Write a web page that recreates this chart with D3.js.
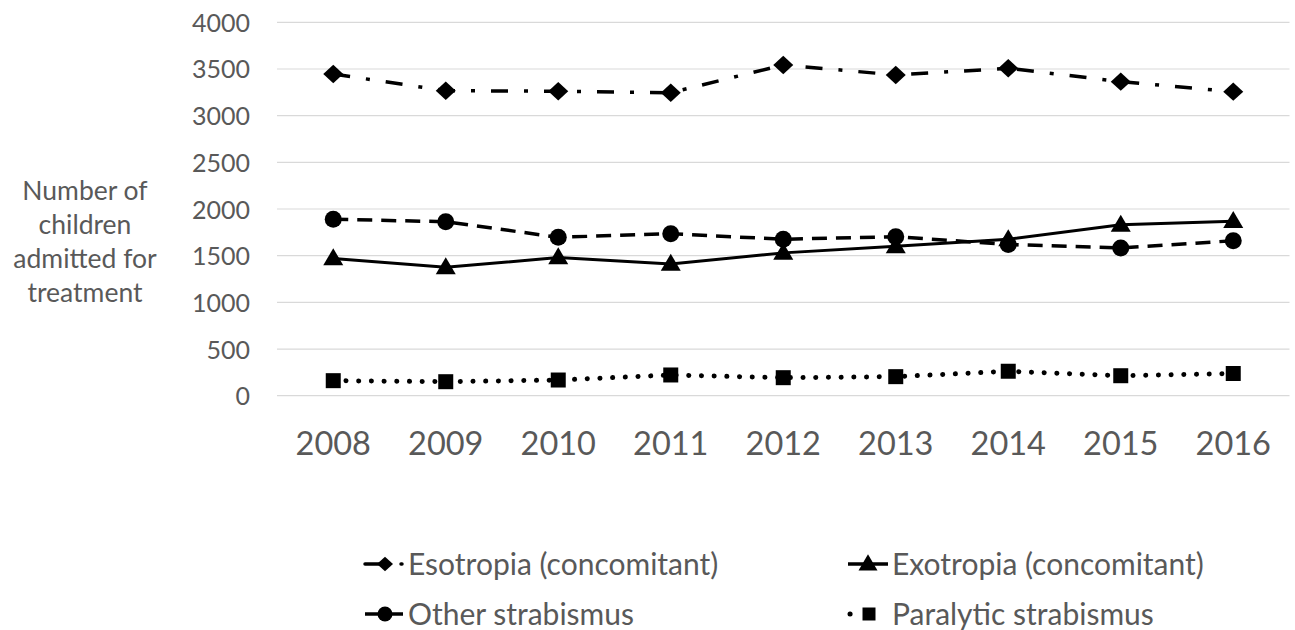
<!DOCTYPE html>
<html>
<head>
<meta charset="utf-8">
<script src="https://cdn.jsdelivr.net/npm/d3@7/dist/d3.min.js"></script>
<style>
  html, body { margin: 0; padding: 0; background: #fff; }
  svg { display: block; }
  text { font-family: Lato, "Open Sans", sans-serif; fill: #595959; }
</style>
</head>
<body>
<svg id="chart" width="1295" height="630"></svg>
<script>
const years = ["2008","2009","2010","2011","2012","2013","2014","2015","2016"];
const yTicks = [0, 500, 1000, 1500, 2000, 2500, 3000, 3500, 4000];
const esotropia = [3446, 3267, 3262, 3246, 3543, 3436, 3507, 3364, 3257];
const exotropia = [1470, 1375, 1480, 1411, 1530, 1600, 1675, 1830, 1868];
const otherStrab = [1890, 1864, 1697, 1735, 1676, 1703, 1620, 1583, 1660];
const paralytic = [161, 150, 168, 222, 193, 204, 262, 214, 238];
const seriesNames = ["Esotropia (concomitant)", "Exotropia (concomitant)", "Other strabismus", "Paralytic strabismus"];
const yTitle = ["Number of", "children", "admitted for", "treatment"];

const svg = d3.select("#chart");
const x = d3.scaleBand().domain(years).range([277, 1289.5]).padding(0);
const xc = d => x(d) + x.bandwidth() / 2;
const y = d3.scaleLinear().domain([0, 4000]).range([395.7, 22.3]);

// gridlines
svg.append("g").selectAll("line").data(yTicks).join("line")
  .attr("x1", 277).attr("x2", 1289.5)
  .attr("y1", d => y(d)).attr("y2", d => y(d))
  .attr("stroke", "#d9d9d9").attr("stroke-width", 1.2);

// y axis labels
const yAxis = d3.axisLeft(y).tickValues(yTicks).tickSize(0).tickPadding(0).tickFormat(d3.format("d"));
const gy = svg.append("g").attr("transform", "translate(250,0)").call(yAxis);
gy.select(".domain").remove();
gy.selectAll("text").style("font-size", "25px").attr("fill", "#595959")
  .style("font-family", "Lato, 'Open Sans', sans-serif").attr("dy", "0.36em");

// x axis labels
const xAxis = d3.axisBottom(x).tickSize(0).tickPadding(0);
const gx = svg.append("g").attr("transform", "translate(0,431)").call(xAxis);
gx.select(".domain").remove();
gx.selectAll("text").style("font-size", "32.5px").attr("fill", "#595959")
  .style("font-family", "Lato, 'Open Sans', sans-serif").attr("dy", "0.74em");

// y title
svg.append("g").selectAll("text").data(yTitle).join("text")
  .attr("x", 85).attr("y", (d, i) => 200 + i * 34)
  .attr("text-anchor", "middle").style("font-size", "26.5px").text(d => d);

const line = d3.line().x((d, i) => xc(years[i])).y(d => y(d));

const series = [
  { name: seriesNames[0], vals: esotropia, dash: "17,16,4,16", width: 3.5, cap: "butt", marker: "diamond" },
  { name: seriesNames[1], vals: exotropia, dash: null, width: 3, cap: "butt", marker: "triangle" },
  { name: seriesNames[2], vals: otherStrab, dash: "15,9", width: 3.5, cap: "butt", marker: "circle" },
  { name: seriesNames[3], vals: paralytic, dash: "0.1,12.6", width: 5, cap: "round", marker: "square" }
];

const markerShape = (s, size) => {
  if (s.marker === "diamond") {
    const w = size, h = size * 0.92;
    return `M0,${-h/2}L${w/2},0L0,${h/2}L${-w/2},0Z`;
  }
  if (s.marker === "triangle") {
    const w = size, h = size * 0.85;
    return `M0,${-h*0.6}L${w/2},${h*0.4}L${-w/2},${h*0.4}Z`;
  }
  if (s.marker === "circle") {
    const r = size / 2;
    return `M${r},0A${r},${r} 0 1,1 ${-r},0A${r},${r} 0 1,1 ${r},0Z`;
  }
  const h = size / 2;
  return `M${-h},${-h}H${h}V${h}H${-h}Z`;
};
const msz = [20, 20, 17, 15];

series.forEach((s, si) => {
  svg.append("path").datum(s.vals)
    .attr("d", line).attr("fill", "none").attr("stroke", "#000")
    .attr("stroke-width", s.width).attr("stroke-linecap", s.cap)
    .attr("stroke-dasharray", s.dash);
  svg.append("g").selectAll("path").data(s.vals).join("path")
    .attr("transform", (d, i) => `translate(${xc(years[i])},${y(d)})`)
    .attr("d", markerShape(s, msz[si])).attr("fill", "#000");
});

// legend
const legendPos = [
  { lx: 365, tx: 408, y: 564 },
  { lx: 848, tx: 892, y: 564 },
  { lx: 365, tx: 408, y: 614 },
  { lx: 848, tx: 892, y: 614 }
];
const legendSegs = [
  [[0, 14], [36, 37]],
  [[0, 40]],
  [[0, 38]],
  [[2, 2.1]]
];
const lmsz = [16, 19, 15, 13];
series.forEach((s, i) => {
  const p = legendPos[i];
  const g = svg.append("g");
  legendSegs[i].forEach(seg => {
    g.append("line").attr("x1", p.lx + seg[0]).attr("x2", p.lx + seg[1])
      .attr("y1", p.y).attr("y2", p.y).attr("stroke", "#000")
      .attr("stroke-width", i === 3 ? 5 : 3.5)
      .attr("stroke-linecap", i === 3 || i === 0 ? "round" : "butt");
  });
  const mx = i === 3 ? p.lx + 21 : p.lx + 20;
  g.append("path").attr("transform", `translate(${mx},${p.y})`)
    .attr("d", markerShape(s, lmsz[i])).attr("fill", "#000");
  g.append("text").attr("x", p.tx).attr("y", p.y).attr("dy", "0.36em")
    .style("font-size", "30px").text(s.name);
});
</script>
</body>
</html>
